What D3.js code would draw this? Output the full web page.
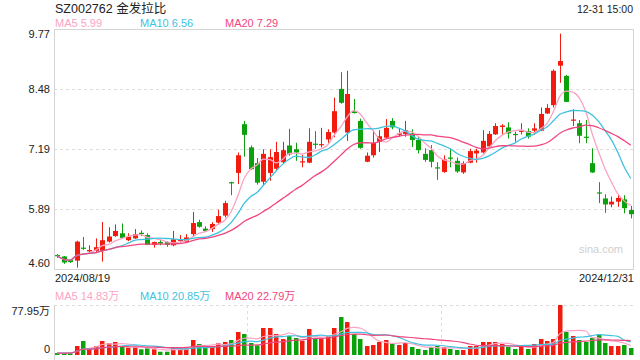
<!DOCTYPE html>
<html>
<head>
<meta charset="utf-8">
<script src="https://cdn.jsdelivr.net/npm/d3@7"></script>
<style>
    body { margin: 0; background: #fff; }
    svg text { font-family: "Liberation Sans", Arial, "Noto Sans CJK SC", sans-serif; }
</style>
</head>
<body>
<div id="chart"></div>
<script>
// daily bars 2024/08/19 - 2024/12/31
const opens = [4.90, 4.87, 4.79, 4.78, 5.06, 4.98, 4.99, 4.99, 5.19, 5.31,
    5.37, 5.22, 5.26, 5.38, 5.33, 5.12, 5.18, 5.18, 5.11, 5.21,
    5.18, 5.35, 5.61, 5.47, 5.46, 5.60, 5.75, 6.47, 6.67, 7.72,
    7.22, 6.88, 6.48, 6.67, 6.76, 6.90, 7.26, 7.18, 6.90, 6.89,
    7.30, 7.27, 7.39, 7.54, 8.48, 7.54, 8.00, 7.79, 6.91, 7.05,
    7.34, 7.43, 7.79, 7.49, 7.51, 7.52, 7.38, 7.08, 7.16, 6.79,
    6.69, 7.00, 6.93, 6.68, 6.89, 7.09, 7.11, 7.24, 7.50, 7.66,
    7.65, 7.51, 7.56, 7.57, 7.58, 7.58, 7.95, 8.13, 8.98, 8.76,
    7.80, 7.74, 7.45, 6.88, 6.25, 6.12, 5.99, 6.05, 6.10, 5.87];
const highs = [4.92, 4.88, 4.81, 5.21, 5.29, 5.11, 5.26, 5.61, 5.50, 5.56,
    5.58, 5.37, 5.46, 5.43, 5.37, 5.19, 5.22, 5.20, 5.42, 5.33,
    5.35, 5.83, 5.66, 5.52, 5.61, 5.88, 6.07, 6.48, 7.11, 7.79,
    7.26, 6.99, 7.18, 7.18, 7.34, 7.34, 7.62, 7.32, 7.06, 7.63,
    7.57, 7.64, 7.61, 8.29, 8.84, 8.87, 8.26, 7.84, 7.11, 7.59,
    7.59, 7.83, 7.85, 7.64, 7.79, 7.61, 7.45, 7.20, 7.27, 6.90,
    7.05, 7.19, 7.00, 6.92, 7.19, 7.19, 7.59, 7.57, 7.74, 7.72,
    7.76, 7.56, 7.74, 7.63, 7.74, 8.08, 8.15, 8.90, 9.67, 8.78,
    8.04, 7.81, 7.81, 7.20, 6.47, 6.21, 6.16, 6.21, 6.19, 5.96];
const lows = [4.84, 4.71, 4.73, 4.63, 5.01, 4.96, 4.94, 4.76, 5.17, 5.29,
    5.27, 5.20, 5.25, 5.31, 5.12, 5.06, 5.11, 5.08, 5.09, 5.17,
    5.16, 5.30, 5.49, 5.40, 5.40, 5.55, 5.71, 6.19, 6.43, 7.02,
    6.74, 6.42, 6.39, 6.50, 6.72, 6.86, 7.04, 6.93, 6.79, 6.88,
    7.19, 7.22, 7.29, 7.44, 8.16, 7.36, 7.95, 7.19, 6.90, 7.00,
    7.12, 7.40, 7.61, 7.45, 7.45, 7.23, 7.09, 6.91, 6.79, 6.52,
    6.67, 6.79, 6.67, 6.65, 6.88, 6.89, 7.09, 7.20, 7.49, 7.49,
    7.41, 7.34, 7.50, 7.41, 7.49, 7.57, 7.94, 8.08, 8.61, 8.20,
    7.68, 7.31, 7.31, 6.67, 6.02, 5.81, 5.93, 5.94, 5.80, 5.69];
const closes = [4.88, 4.74, 4.75, 5.19, 5.04, 5.01, 5.07, 5.22, 5.30, 5.42,
    5.27, 5.30, 5.35, 5.36, 5.12, 5.18, 5.15, 5.12, 5.24, 5.23,
    5.28, 5.59, 5.51, 5.42, 5.57, 5.74, 6.02, 6.45, 7.05, 7.49,
    6.75, 6.46, 7.08, 7.01, 7.12, 7.16, 7.07, 7.11, 6.92, 7.34,
    7.28, 7.29, 7.55, 8.00, 8.18, 8.37, 7.96, 7.21, 7.04, 7.32,
    7.46, 7.64, 7.65, 7.52, 7.59, 7.38, 7.16, 6.95, 6.91, 6.78,
    6.96, 6.98, 6.70, 6.88, 7.14, 7.15, 7.36, 7.51, 7.68, 7.69,
    7.52, 7.50, 7.58, 7.45, 7.63, 7.94, 8.07, 8.87, 9.08, 8.20,
    7.82, 7.47, 7.43, 6.68, 6.23, 5.99, 6.05, 6.13, 5.91, 5.78];
// volume in 万手
const volumes = [3, 3, 3, 14, 21.8, 10.4, 14, 21.8, 18.2, 20.3,
    14, 11.4, 11.4, 8.9, 10.4, 8.9, 5.1, 5.1, 12.5, 10.4,
    10.4, 23.4, 17.1, 12, 14, 18.2, 20.3, 23.4, 35.9, 32.7,
    18.7, 15.1, 42.1, 42.1, 32.7, 24.9, 29.6, 26.5, 22.3, 40.5,
    24.9, 24.9, 29.6, 42.1, 59.2, 51.4, 32.7, 24.9, 14, 15.6,
    20.3, 23.4, 17.6, 15.6, 18.7, 12.5, 9.4, 7.8, 12.5, 14,
    12.5, 9.4, 7.8, 7.8, 14, 14, 20.3, 20.3, 20.3, 17.1,
    12.5, 9.4, 12.5, 9.4, 17.1, 24.9, 21.8, 24.9, 77.95, 35.9,
    29.6, 23.4, 20.3, 26.5, 31.2, 18.7, 14, 14, 15.6, 10.9];

const priceTicks = [4.60, 5.89, 7.19, 8.48, 9.77];
const volTicks = [0, 77.95];
const dateLabels = ["2024/08/19", "2024/12/31"];
const maNames = ["MA5", "MA10", "MA20"];
const maPeriods = [5, 10, 20];
const maPriceText = ["5.99", "6.56", "7.29"];
const maVolText = ["14.83万", "20.85万", "22.79万"];

class klineViz {
    constructor(parentElement) {
        this.parentElement = parentElement;
        this.colors = ['#fba3c4', '#3fc2df', '#f0467f'];
        this.up = '#f21c0e';
        this.down = '#0ba10b';
    }

    initViz() {
        let vis = this;
        vis.left = 54;
        vis.right = 634;
        vis.top = 29;
        vis.bottom = 269;
        vis.vTop = 305;
        vis.vBottom = 355;

        vis.svg = d3.select("#" + vis.parentElement).append("svg")
            .attr("width", 640)
            .attr("height", 360);

        vis.bars = closes.map((c, i) => ({i: i, o: opens[i], h: highs[i], l: lows[i], c: c, v: volumes[i]}));

        vis.x = d3.scaleBand().domain(d3.range(vis.bars.length))
            .range([vis.left, vis.right]).paddingInner(0.24).paddingOuter(0.12);
        vis.y = d3.scaleLinear().domain([4.60, 9.77]).range([vis.bottom, vis.top]);
        vis.yv = d3.scaleLinear().domain([0, 77.95]).range([vis.vBottom, vis.vTop]);

        vis.wrangleData();
    }

    // moving averages, partial window at the start
    ma(values, n) {
        return values.map((d, i) => d3.mean(values.slice(Math.max(0, i - n + 1), i + 1)));
    }

    wrangleData() {
        let vis = this;
        vis.priceMA = maPeriods.map(n => vis.ma(closes, n));
        vis.volMA = maPeriods.map(n => vis.ma(volumes, n));
        vis.updateViz();
    }

    updateViz() {
        let vis = this;
        let svg = vis.svg;
        let cx = i => vis.x(i) + vis.x.bandwidth() / 2;
        let col = d => d.c >= d.o ? vis.up : vis.down;

        // title
        svg.append("text").attr("x", 55).attr("y", 13)
            .attr("font-size", "12.5px").attr("fill", "#222")
            .text("SZ002762 金发拉比");
        svg.append("text").attr("x", 633).attr("y", 13)
            .attr("text-anchor", "end").attr("font-size", "10.5px").attr("fill", "#222")
            .text("12-31 15:00");

        // legends
        let legX = [55, 140, 225];
        maNames.forEach((n, k) => {
            svg.append("text").attr("x", legX[k]).attr("y", 27)
                .attr("font-size", "11px").attr("fill", vis.colors[k])
                .text(n + " " + maPriceText[k]);
            svg.append("text").attr("x", legX[k]).attr("y", 300)
                .attr("font-size", "11px").attr("fill", vis.colors[k])
                .text(n + " " + maVolText[k]);
        });

        // grid
        svg.append("g").selectAll("line")
            .data(priceTicks.slice(1, -1))
            .enter().append("line")
            .attr("x1", vis.left).attr("x2", vis.right)
            .attr("y1", d => Math.round(vis.y(d)) + 0.5)
            .attr("y2", d => Math.round(vis.y(d)) + 0.5)
            .attr("stroke", "#dedede").attr("stroke-dasharray", "3,3");

        svg.append("rect")
            .attr("x", vis.left + 0.5).attr("y", vis.top + 0.5)
            .attr("width", vis.right - vis.left - 1).attr("height", vis.bottom - vis.top)
            .attr("fill", "none").attr("stroke", "#d4d4d4");

        // price axis
        let yAxis = svg.append("g")
            .attr("transform", "translate(" + vis.left + ",0)")
            .call(d3.axisLeft(vis.y).tickValues(priceTicks).tickFormat(d3.format(".2f"))
                .tickSize(0).tickPadding(4));
        yAxis.select(".domain").remove();
        yAxis.selectAll("text").attr("font-size", "11px").attr("fill", "#222")
            .attr("dy", (d, i) => i === 0 ? "-0.2em" : (i === priceTicks.length - 1 ? "0.8em" : "0.32em"));

        // dates
        svg.append("text").attr("x", 55).attr("y", 282)
            .attr("font-size", "11px").attr("fill", "#222").text(dateLabels[0]);
        svg.append("text").attr("x", 634).attr("y", 282).attr("text-anchor", "end")
            .attr("font-size", "11px").attr("fill", "#222").text(dateLabels[1]);

        svg.append("text").attr("x", 623).attr("y", 253).attr("text-anchor", "end")
            .attr("font-size", "11px").attr("fill", "#d0d0d0").text("sina.com");

        // candles
        let candle = svg.append("g").selectAll("g")
            .data(vis.bars).enter().append("g");
        candle.append("line")
            .attr("x1", d => Math.round(cx(d.i)) + 0.5).attr("x2", d => Math.round(cx(d.i)) + 0.5)
            .attr("y1", d => vis.y(d.h)).attr("y2", d => vis.y(d.l))
            .attr("stroke", col).attr("stroke-width", 1);
        candle.append("rect")
            .attr("x", d => Math.round(cx(d.i)) - 2)
            .attr("width", 5)
            .attr("y", d => vis.y(Math.max(d.o, d.c)))
            .attr("height", d => Math.max(1.2, Math.abs(vis.y(d.o) - vis.y(d.c))))
            .attr("fill", col);

        // price MAs
        let line = d3.line().x((d, i) => cx(i)).y(d => vis.y(d)).curve(d3.curveMonotoneX);
        vis.priceMA.forEach((m, k) => {
            svg.append("path").datum(m)
                .attr("d", line)
                .attr("fill", "none").attr("stroke", vis.colors[k]).attr("stroke-width", 1.3);
        });

        // volume panel
        svg.append("line").attr("x1", vis.left).attr("x2", vis.right)
            .attr("y1", vis.vTop + 0.5).attr("y2", vis.vTop + 0.5)
            .attr("stroke", "#dedede").attr("stroke-dasharray", "3,3");
        [1, 2].forEach(k => {
            let xx = Math.round(vis.left + (vis.right - vis.left) * k / 3) + 0.5;
            svg.append("line").attr("x1", xx).attr("x2", xx)
                .attr("y1", vis.vTop).attr("y2", vis.vBottom)
                .attr("stroke", "#dedede").attr("stroke-dasharray", "3,3");
        });
        svg.append("line").attr("x1", vis.left + 0.5).attr("x2", vis.left + 0.5)
            .attr("y1", vis.vTop).attr("y2", 360).attr("stroke", "#d4d4d4");

        let vAxis = svg.append("g")
            .attr("transform", "translate(" + vis.left + ",0)")
            .call(d3.axisLeft(vis.yv).tickValues(volTicks)
                .tickFormat(d => d === 0 ? "0" : d3.format(".2f")(d) + "万")
                .tickSize(0).tickPadding(4));
        vAxis.select(".domain").remove();
        vAxis.selectAll("text").attr("font-size", "11px").attr("fill", "#222")
            .attr("dy", (d, i) => i === 0 ? "-0.25em" : "0.85em");

        svg.append("g").selectAll("rect")
            .data(vis.bars).enter().append("rect")
            .attr("x", d => Math.round(cx(d.i)) - 2)
            .attr("width", 4.5)
            .attr("y", d => vis.yv(d.v))
            .attr("height", d => vis.vBottom - vis.yv(d.v))
            .attr("fill", col);

        let vline = d3.line().x((d, i) => cx(i)).y(d => vis.yv(d)).curve(d3.curveMonotoneX);
        vis.volMA.forEach((m, k) => {
            svg.append("path").datum(m)
                .attr("d", vline)
                .attr("fill", "none").attr("stroke", vis.colors[k]).attr("stroke-width", 1.2);
        });
    }
}

let viz = new klineViz("chart");
viz.initViz();
</script>
</body>
</html>
